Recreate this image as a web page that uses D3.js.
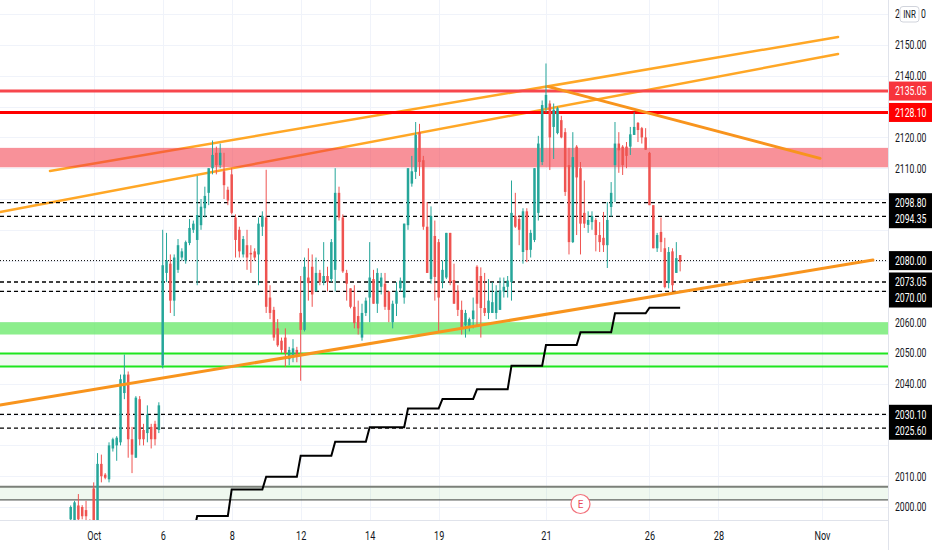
<!DOCTYPE html>
<html>
<head>
<meta charset="utf-8">
<script src="https://cdn.jsdelivr.net/npm/d3@7"></script>
<style>
  html, body { margin: 0; padding: 0; background: #fff; }
  svg { display: block; font-family: Roboto, "Liberation Sans", sans-serif; }
</style>
</head>
<body>
<svg id="chart" width="932" height="550"></svg>
<script>
// ---- data (45 min bars, index 0 = first visible bar) ----
var opens  = [1996,1995,2000.5,2000,1999,1995,2006,1995,2014,2010.5,2009,2019,2020,2021,2037,2043,2022,2016,2035,2025,
              2024,2026,2027,2025,2046,2076,2079,2067,2077,2081,2080,2085.7,2090,2086.7,2091.5,2097,2102,2110,2115,2111,
              2109,2103,2108,2094,2090,2082,2085,2082.5,2083,2082,2091,2094,2068,2064,2058,2054,2055,2048,2048.5,2051,
              2063,2057.5,2074.5,2078,2070,2076,2073,2075,2074,2077,2102,2094,2076,2071,2065,2062,2055,2063,2068,2074,
              2066,2071.5,2072.5,2070,2060,2066,2071,2068,2091.5,2105,2108.8,2121.7,2112.6,2091,2074,2088,2086,2073,2074.5,2089,
              2073.7,2070,2064,2059,2058.5,2061,2078,2075,2064.6,2063,2063,2063,2064,2070,2071.5,2073,2094.5,2093.5,2082.8,2096,
              2083.5,2086.7,2095.5,2112,2129.5,2131,2123.4,2121.4,2125.6,2121.7,2111,2086,2117,2110,2095.5,2091.6,2092.5,2093.2,2088.3,2087.4,
              2085,2097.4,2111,2118,2117,2117,2117,2120.8,2124.7,2123,2120,2115,2098,2084,2089.3,2084,2072.7,2083,2076,2081.8];
var highs  = [2000.5,2002,2004.2,2000.6,2002,1996,2008,2017.5,2017,2011,2021,2022.5,2023,2043,2049.5,2044,2026,2036,2036,2027,
              2033,2027,2028,2034,2090,2089,2082,2082,2087,2084,2086.5,2093.5,2093,2107.5,2100,2104,2110,2119,2117,2118,
              2115,2104,2110,2095,2091,2088,2090,2085,2084,2094,2096,2109.5,2072,2065,2061,2055,2058,2052,2054.5,2052,
              2075,2081,2084,2082,2081,2077,2086,2078,2087,2110,2104,2095,2077,2071,2072,2067,2066,2068,2086,2077,
              2077.5,2076,2076,2070,2067,2073,2074.5,2092,2110,2114,2125,2124.4,2114,2099,2097.6,2093,2087,2080,2089,2089,
              2079,2072,2067,2064,2061.5,2068,2078.5,2077.8,2076,2074,2073,2072,2074.5,2074.5,2075,2106,2102,2094.8,2097,2097,
              2090,2110,2120.5,2132,2144,2132,2131,2130,2127,2123,2116.6,2121.7,2117.5,2112,2106,2096,2096,2093.8,2092.5,2095.8,
              2099,2105.5,2125,2121.7,2117.5,2118.5,2123.4,2128.2,2125,2123.4,2123,2115.3,2098,2089,2094,2087.4,2084.4,2084,2086,2081.8];
var lows   = [1994,1994,1994,1996,1994,1990,1993,1993,2008,2009,2008,2018,2015,2020,2035,2016,2011,2016,2020,2020,
              2021,2019,2020,2024,2045,2073,2063,2062,2076,2080,2079,2085,2089,2072,2090,2094,2098,2108,2108,2110,
              2100,2098,2095,2081,2081,2081,2077,2076,2080,2072,2088,2063,2061,2054,2052,2050,2045.5,2046,2047,2047,
              2041,2057,2067,2065,2070,2072,2072,2070,2073,2070,2093,2076,2067,2064.5,2058,2056,2054,2062,2060,2066,
              2063,2069,2064,2060,2058,2062,2070,2066,2090,2104,2106.5,2107.5,2090,2076,2072.5,2067,2057,2071,2074,2072,
              2066,2062,2056,2055,2057,2058,2059,2055,2062,2061,2063,2061,2064,2068,2068,2067,2090.6,2085,2079,2079.5,
              2081,2086,2093,2111,2128,2109.4,2113,2121,2119.7,2101,2082,2085.7,2088.3,2082,2090.6,2089,2090,2083,2082.8,2082.8,
              2077.6,2094.2,2099,2108.5,2107.8,2110,2114.3,2120.8,2118.5,2118,2116,2098,2084,2082.8,2082.8,2071,2071,2070,2076,2076.5];
var closes = [2000,2001.5,1996,1997,1997,1993,1995,2014,2010,2009.5,2020,2022,2022.5,2041.5,2043,2022,2017,2035.5,2022,2022,
              2030,2022,2022,2033,2078.5,2080,2067,2081,2085,2083,2086,2090.6,2092,2094.8,2097.5,2101,2110,2114.3,2111,2115,
              2104.5,2099.5,2095.5,2086.7,2083,2087,2081,2082,2081,2092,2094.5,2065,2063,2055,2052.5,2051,2050,2051,2051.5,2049,
              2057.5,2078,2072.7,2069,2076,2073,2075,2073,2086,2102,2094,2076.5,2072.5,2065,2059.7,2058,2063,2067,2074.5,2066,
              2076,2074.5,2065,2064,2066,2070,2073.5,2092,2110,2109,2120.8,2112,2091,2076,2094.5,2074.7,2068,2077,2089,2073,
              2066,2064,2058,2063,2061,2063.8,2066,2064.6,2063,2067,2066.5,2070,2070.3,2071.5,2073.5,2095.5,2091,2090,2096,2083.4,
              2089,2110,2118,2130.5,2133.8,2120,2129,2129.5,2120,2102.3,2086,2113.6,2107,2092,2092,2093.2,2094.5,2088.3,2086,2085,
              2093.2,2102,2118,2115.8,2111,2114,2121,2123.4,2122.4,2120,2116,2098,2084,2088.3,2086,2071.4,2082.8,2072,2080.8,2079.6];

// daily stepped indicator: first bar of each day and its value
var stepStarts = [24, 33, 42, 51, 60, 69, 78, 88, 97, 106, 115, 124, 133, 142, 151];
var stepValues = [1991, 1997.1, 2005.7, 2009.8, 2016.6, 2021.2, 2025.9, 2032.0, 2035.1, 2038.2, 2045.9, 2052.6, 2056.7, 2062.9, 2064.7];

// time axis
var timeTickIdx    = [6, 24, 42, 60, 78, 96, 124, 151, 169, 196];
var timeTickLabels = ['Oct', '6', '8', '12', '14', '19', '21', '26', '28', 'Nov'];

// price axis (labels hidden behind level tags are left out)
var priceTicks = [2000, 2010, 2030, 2040, 2050, 2060, 2110, 2120, 2140, 2150];
var gridPrices = d3.range(2000, 2161, 10);

// drawings: horizontal levels
var redLevels    = [2135.05, 2128.10];
var dashedLevels = [2098.80, 2094.35, 2073.05, 2070.00, 2030.10, 2025.60];
var lastPrice    = 2080.00;
var redZone      = [2110.3, 2116.6];
var greenZone    = [2056.0, 2060.0];
var greenBox     = [2045.6, 2049.8];
var grayBox      = [2002.3, 2006.6];

// trend lines as [bar index, price] pairs
var upperLine1  = [[-5.4, 2109.1], [200.2, 2152.6]];
var upperLine2  = [[-18.4, 2095.8], [200.2, 2147.1]];
var fallingLine = [[124.6, 2136.5], [195.5, 2113.2]];
var supportLine = [[-18.4, 2033.1], [209.3, 2080.2]];

var earningsIdx = [133];

// ---- layout ----
var width = 932, height = 550,
    plotRight = 888, plotBottom = 520,
    upColor = '#26a69a', downColor = '#ef5350', textColor = '#131722';

var svg = d3.select('#chart');

var x = d3.scaleLinear().domain([0, 159]).range([70.7, 70.7 + 159 * 3.833]);
var y = d3.scaleLinear().domain([2000, 2150]).range([507, 45]);

// narrow the glyphs horizontally (the reference uses a condensed face)
function squeeze(sel, k) {
    sel.each(function() {
        var t = d3.select(this);
        var x0 = +t.attr('x') || 0;
        t.attr('x', x0 / k).attr('transform', 'scale(' + k + ',1)');
    });
}

svg.append('defs').append('clipPath').attr('id', 'plotClip')
    .append('rect').attr('x', 0).attr('y', 0).attr('width', plotRight).attr('height', plotBottom);

var plot = svg.append('g').attr('clip-path', 'url(#plotClip)');

// grid
plot.append('g').selectAll('line').data(gridPrices).enter().append('line')
    .attr('x1', 0).attr('x2', plotRight)
    .attr('y1', function(d) { return Math.round(y(d)) + 0.5; })
    .attr('y2', function(d) { return Math.round(y(d)) + 0.5; })
    .attr('stroke', '#f0f3fa').attr('stroke-width', 1);
plot.append('g').selectAll('line').data(timeTickIdx).enter().append('line')
    .attr('x1', function(d) { return Math.round(x(d)) + 0.5; })
    .attr('x2', function(d) { return Math.round(x(d)) + 0.5; })
    .attr('y1', 0).attr('y2', plotBottom)
    .attr('stroke', '#f0f3fa').attr('stroke-width', 1);

var line = d3.line().x(function(d) { return x(d[0]); }).y(function(d) { return y(d[1]); });

// upper channel lines (under the red zone)
[upperLine1, upperLine2].forEach(function(pts) {
    plot.append('path').attr('d', line(pts))
        .attr('fill', 'none').attr('stroke', '#ffa726').attr('stroke-width', 2.5)
        .attr('stroke-linecap', 'round');
});

function zone(range, fill, opacity) {
    return plot.append('rect')
        .attr('x', 0).attr('width', plotRight)
        .attr('y', y(range[1])).attr('height', y(range[0]) - y(range[1]))
        .attr('fill', fill).attr('fill-opacity', opacity);
}
zone(redZone, '#f23645', 0.55);
zone(greenZone, '#66e866', 0.75);
zone(greenBox, '#4caf50', 0.08);
zone(grayBox, '#4caf50', 0.09);

function hline(v, color, w, dash) {
    var l = plot.append('line')
        .attr('x1', 0).attr('x2', plotRight)
        .attr('y1', y(v)).attr('y2', y(v))
        .attr('stroke', color).attr('stroke-width', w);
    if (dash) l.attr('stroke-dasharray', dash);
    return l;
}
hline(greenBox[1], '#1ee61e', 2);
hline(greenBox[0], '#1ee61e', 2);
hline(grayBox[1], '#7b8079', 2);
hline(grayBox[0], '#3a3d3a', 1);
hline(redLevels[0], '#f7474d', 3);
hline(redLevels[1], '#ff0000', 3);
dashedLevels.forEach(function(v) { hline(v, '#000', 1.3, '4,3'); });
hline(lastPrice, '#000', 1, '1,2');

// candles
var bars = d3.range(opens.length).map(function(i) {
    return {i: i, o: opens[i], h: highs[i], l: lows[i], c: closes[i]};
});
var candles = plot.append('g').selectAll('g').data(bars).enter().append('g');
candles.append('line')
    .attr('x1', function(d) { return x(d.i); }).attr('x2', function(d) { return x(d.i); })
    .attr('y1', function(d) { return y(d.h); }).attr('y2', function(d) { return y(d.l); })
    .attr('stroke', function(d) { return d.c >= d.o ? upColor : downColor; })
    .attr('stroke-width', 1);
candles.append('rect')
    .attr('x', function(d) { return x(d.i) - 1.25; })
    .attr('width', 2.5)
    .attr('y', function(d) { return y(Math.max(d.o, d.c)); })
    .attr('height', function(d) { return Math.max(1, Math.abs(y(d.o) - y(d.c))); })
    .attr('fill', function(d) { return d.c >= d.o ? upColor : downColor; });

// stepped daily indicator
var stepPts = [];
stepStarts.forEach(function(s, k) {
    var end = k < stepStarts.length - 1 ? stepStarts[k + 1] - 1 : opens.length - 1;
    for (var i = s; i <= end; i++) stepPts.push([i, stepValues[k]]);
});
plot.append('path').attr('d', line(stepPts))
    .attr('fill', 'none').attr('stroke', '#000').attr('stroke-width', 2);

// falling and support trend lines
[fallingLine, supportLine].forEach(function(pts) {
    plot.append('path').attr('d', line(pts))
        .attr('fill', 'none').attr('stroke', '#f8941d').attr('stroke-width', 3)
        .attr('stroke-linecap', 'round');
});

// earnings marker
var ev = plot.selectAll('g.ev').data(earningsIdx).enter().append('g').attr('class', 'ev')
    .attr('transform', function(d) { return 'translate(' + x(d) + ',' + (plotBottom - 16) + ')'; });
ev.append('circle').attr('r', 9.5).attr('fill', '#fff').attr('stroke', '#f2727c').attr('stroke-width', 1.2);
ev.append('text').text('E').attr('text-anchor', 'middle').attr('dy', '0.36em')
    .attr('font-size', 10).attr('fill', '#e84a5f');

// axes frame
svg.append('line').attr('x1', plotRight + 0.5).attr('x2', plotRight + 0.5).attr('y1', 0).attr('y2', height)
    .attr('stroke', '#e0e3eb');
svg.append('line').attr('x1', 0).attr('x2', plotRight).attr('y1', plotBottom + 0.5).attr('y2', plotBottom + 0.5)
    .attr('stroke', '#e0e3eb');

// price axis
var yAxis = d3.axisRight(y).tickValues(priceTicks).tickFormat(d3.format('.2f')).tickSize(0).tickPadding(7);
var yAxisG = svg.append('g').attr('transform', 'translate(' + plotRight + ',0)').call(yAxis);
yAxisG.select('.domain').remove();
yAxisG.selectAll('text').attr('font-size', 12).attr('fill', textColor)
    .attr('font-family', 'Roboto, "Liberation Sans", sans-serif');
squeeze(yAxisG.selectAll('text'), 0.72);

// time axis
var xAxis = d3.axisBottom(x).tickValues(timeTickIdx)
    .tickFormat(function(d, i) { return timeTickLabels[i]; }).tickSize(0).tickPadding(11);
var xAxisG = svg.append('g').attr('transform', 'translate(0,' + plotBottom + ')').call(xAxis);
xAxisG.select('.domain').remove();
xAxisG.selectAll('text').attr('font-size', 12).attr('fill', textColor)
    .attr('font-family', 'Roboto, "Liberation Sans", sans-serif');
xAxisG.selectAll('.tick').each(function() {
    var t = d3.select(this).select('text');
    t.attr('transform', 'scale(0.76,1)');
});

// price tags for the drawn levels
var levelTags = [
    {v: redLevels[0], bg: '#f7343c'},
    {v: redLevels[1], bg: '#ff0000'},
    {v: dashedLevels[0], bg: '#000'},
    {v: dashedLevels[1], bg: '#000'},
    {v: lastPrice, bg: '#000'},
    {v: dashedLevels[2], bg: '#000'},
    {v: dashedLevels[3], bg: '#000'},
    {v: dashedLevels[4], bg: '#000'},
    {v: dashedLevels[5], bg: '#000'}
];
var prev = -100;
levelTags.forEach(function(d) {
    d.cy = Math.max(y(d.v), prev + 16);
    prev = d.cy;
});
var tag = svg.append('g').selectAll('g').data(levelTags).enter().append('g')
    .attr('transform', function(d) { return 'translate(' + (plotRight + 1) + ',' + d.cy + ')'; });
tag.append('rect').attr('x', 0).attr('y', -9.5).attr('width', width - plotRight).attr('height', 19)
    .attr('fill', function(d) { return d.bg; });
tag.append('text').text(function(d) { return d.v.toFixed(2); })
    .attr('x', 6).attr('dy', '0.35em').attr('font-size', 12).attr('fill', '#fff');
squeeze(tag.selectAll('text'), 0.72);

// top tick "2160.00" sits under the currency badge: only its ends show
var topY = y(2160);
var topParts = svg.append('g').attr('transform', 'translate(' + plotRight + ',' + topY + ')');
topParts.append('text').text('2').attr('x', 7).attr('dy', '0.32em').attr('font-size', 12).attr('fill', textColor);
topParts.append('text').text('0').attr('x', 33).attr('dy', '0.32em').attr('font-size', 12).attr('fill', textColor);
squeeze(topParts.selectAll('text'), 0.72);

var badge = svg.append('g').attr('transform', 'translate(900,6.5)');
badge.append('rect').attr('width', 19).attr('height', 15.5).attr('rx', 3)
    .attr('fill', '#fff').attr('stroke', '#d1d4dc');
badge.append('text').text('INR').attr('x', 9.5).attr('y', 11.5).attr('text-anchor', 'middle')
    .attr('font-size', 11).attr('fill', textColor);
squeeze(badge.selectAll('text'), 0.72);
</script>
</body>
</html>
